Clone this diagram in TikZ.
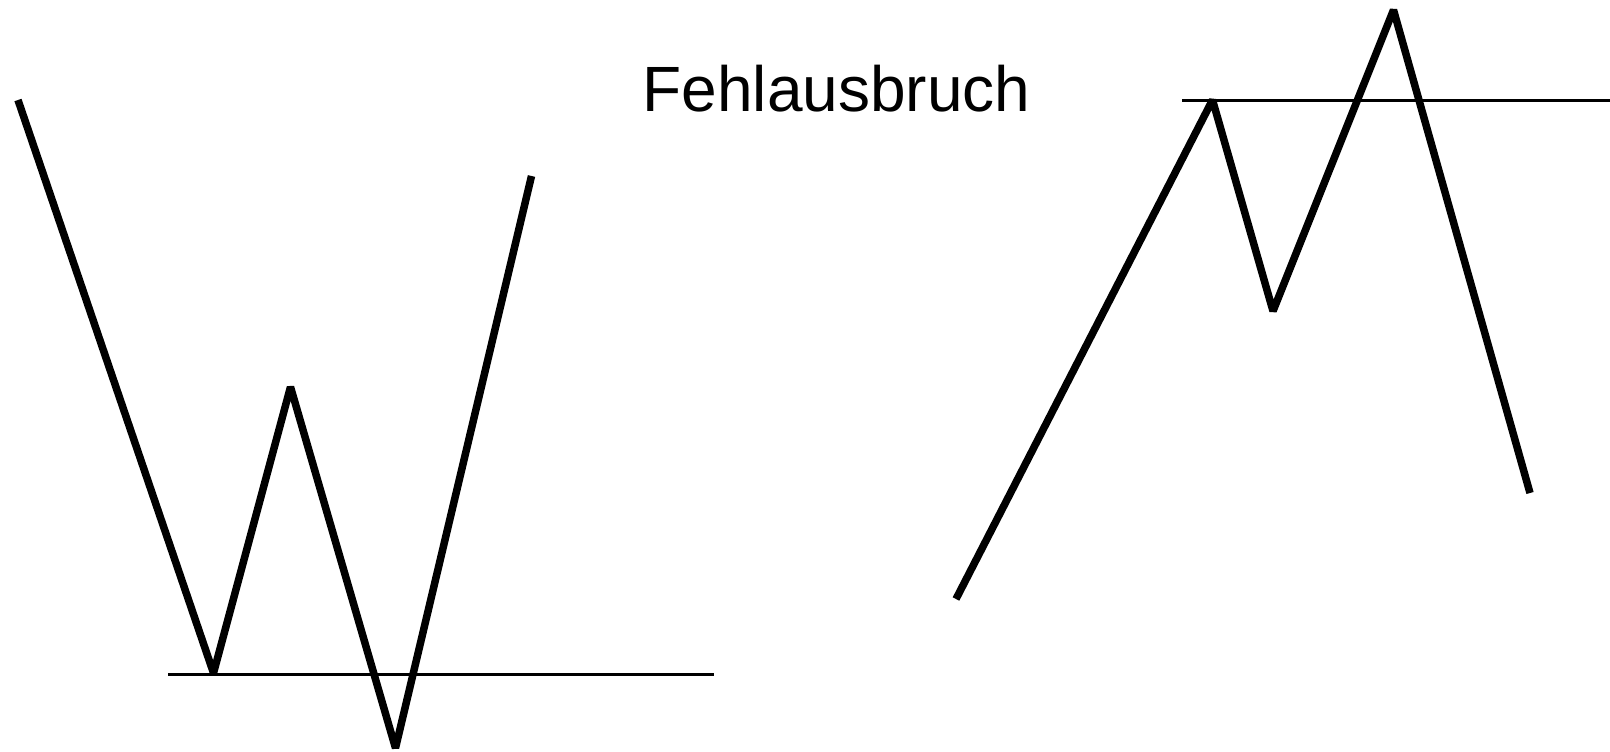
\documentclass[tikz,border=0pt]{standalone}
\usepackage{fontspec}
\setmainfont{Liberation Sans}
\tikzset{
  price/.style={line width=7.5pt, line join=bevel, line cap=butt},
  level/.style={line width=2.2pt},
  titletext/.style={font=\fontsize{64pt}{70pt}\selectfont, inner sep=0pt, anchor=base}
}
\begin{document}
\begin{tikzpicture}[x=1pt,y=-1pt]
\useasboundingbox (0,0) rectangle (1610,752);
% left pattern
\coordinate (a1) at (18,100);
\coordinate (a2) at (213.5,673);
\coordinate (a3) at (290.5,387);
\coordinate (a4) at (395.5,748);
\coordinate (a5) at (531.5,176);
\coordinate (l1) at (168,674.5);
\coordinate (l2) at (714,674.5);
\draw[level] (l1) -- (l2);
\draw[price] (a1) -- (a2) -- (a3) -- (a4) -- (a5);
% right pattern
\coordinate (b1) at (956,599);
\coordinate (b2) at (1212.5,100);
\coordinate (b3) at (1273,311);
\coordinate (b4) at (1393.5,10);
\coordinate (b5) at (1530,493);
\coordinate (r1) at (1182,100.5);
\coordinate (r2) at (1610,100.5);
\draw[level] (r1) -- (r2);
\draw[price] (b1) -- (b2) -- (b3) -- (b4) -- (b5);
% title
\node[titletext] (title) at (836.5,111.7) {Fehlausbruch};
\end{tikzpicture}
\end{document}
